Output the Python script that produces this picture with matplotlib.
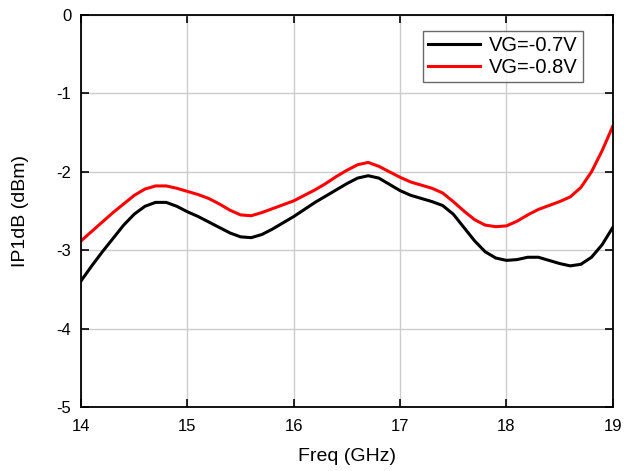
import numpy as np
import matplotlib
matplotlib.use('Agg')
import matplotlib.pyplot as plt

plt.rcParams['font.family'] = ['Liberation Sans', 'DejaVu Sans']
plt.rcParams['axes.unicode_minus'] = False

freq = [14.0, 14.1, 14.2, 14.3, 14.4, 14.5, 14.6, 14.7, 14.8, 14.9,
        15.0, 15.1, 15.2, 15.3, 15.4, 15.5, 15.6, 15.7, 15.8, 15.9,
        16.0, 16.1, 16.2, 16.3, 16.4, 16.5, 16.6, 16.7, 16.8, 16.9,
        17.0, 17.1, 17.2, 17.3, 17.4, 17.5, 17.6, 17.7, 17.8, 17.9,
        18.0, 18.1, 18.2, 18.3, 18.4, 18.5, 18.6, 18.7, 18.8, 18.9, 19.0]

p1db_07 = [-3.39, -3.20, -3.02, -2.85, -2.68, -2.54, -2.44, -2.39, -2.39, -2.44,
           -2.51, -2.57, -2.64, -2.71, -2.78, -2.83, -2.84, -2.80, -2.73, -2.65,
           -2.57, -2.48, -2.39, -2.31, -2.23, -2.15, -2.08, -2.05, -2.08, -2.16,
           -2.24, -2.30, -2.34, -2.38, -2.43, -2.54, -2.71, -2.88, -3.02, -3.10,
           -3.13, -3.12, -3.09, -3.09, -3.13, -3.17, -3.20, -3.18, -3.09, -2.93, -2.71]

p1db_08 = [-2.88, -2.76, -2.64, -2.52, -2.41, -2.30, -2.22, -2.18, -2.18, -2.21,
           -2.25, -2.29, -2.34, -2.41, -2.49, -2.55, -2.56, -2.52, -2.47, -2.42,
           -2.37, -2.30, -2.23, -2.15, -2.06, -1.98, -1.91, -1.88, -1.93, -2.00,
           -2.07, -2.13, -2.17, -2.21, -2.27, -2.38, -2.50, -2.61, -2.68, -2.70,
           -2.69, -2.63, -2.55, -2.48, -2.43, -2.38, -2.32, -2.20, -2.00, -1.73, -1.42]

xticks = [14, 15, 16, 17, 18, 19]
yticks = [0, -1, -2, -3, -4, -5]

fig = plt.figure(figsize=(6.24, 4.71), dpi=100)
ax = fig.add_axes([0.13, 0.136, 0.852, 0.832])

ax.plot(freq, p1db_07, color='black', lw=2.2, label='VG=-0.7V')
ax.plot(freq, p1db_08, color='#ff0000', lw=2.2, label='VG=-0.8V')

ax.set_xlim(14, 19)
ax.set_ylim(-5, 0)
ax.set_xticks(xticks)
ax.set_yticks(yticks)
ax.grid(True, color='#cccccc', lw=1)
ax.set_axisbelow(True)
ax.tick_params(direction='in', length=6, width=1.2, top=True, right=True,
               labelsize=12)
ax.tick_params(axis='x', pad=9)
ax.tick_params(axis='y', pad=7)
for s in ax.spines.values():
    s.set_linewidth(1.3)

ax.set_xlabel('Freq (GHz)', fontsize=14, labelpad=10)
ax.set_ylabel('IP1dB (dBm)', fontsize=14, labelpad=20)

leg = ax.legend(loc='upper right', fontsize=14.5, frameon=True, fancybox=False,
                borderpad=0.25, handlelength=2.6, handletextpad=0.45,
                labelspacing=0.15, borderaxespad=0,
                bbox_to_anchor=(0.944, 0.959))
leg.get_frame().set_edgecolor('#444444')
leg.get_frame().set_linewidth(1)

fig.savefig('out.png', dpi=100)
